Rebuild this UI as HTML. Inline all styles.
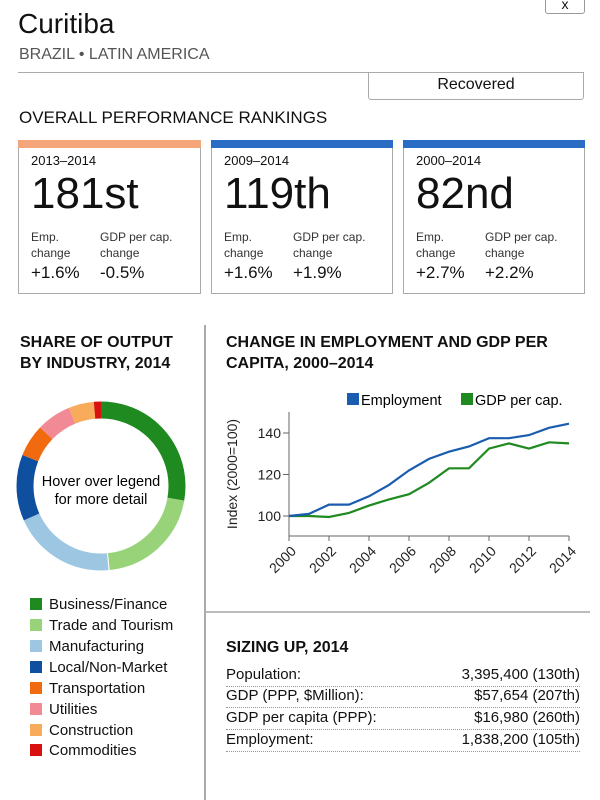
<!DOCTYPE html>
<html><head><meta charset="utf-8"><style>
body{margin:0;width:600px;height:800px;background:#fff;font-family:"Liberation Sans",sans-serif;color:#111;position:relative;overflow:hidden}
.a{position:absolute}
.card{position:absolute;top:140px;height:154px;border:1px solid #aaa;border-top:none;box-sizing:border-box}
.bar{position:absolute;left:-1px;right:-1px;top:0;height:8px}
.per{position:absolute;left:12px;top:13px;font-size:13px}
.rank{position:absolute;left:12px;top:29px;font-size:44px;letter-spacing:0}
.lab{position:absolute;top:89px;font-size:12px;line-height:16px;color:#333}
.val{position:absolute;top:123px;font-size:17px}
.row{position:absolute;left:226px;width:354px;border-bottom:1px dotted #999;font-size:15px;height:21px;line-height:19px}
.row span{float:right}
.lg{position:absolute;left:30px;font-size:15px}
.lg i{display:inline-block;width:12px;height:12px;margin-right:7px;vertical-align:-1px}
</style></head><body>
<div class="a" style="left:545px;top:-10px;width:38px;height:22px;border:1px solid #999;border-radius:3px;text-align:center;font-size:14px;line-height:26px">x</div>
<div class="a" style="left:18px;top:8px;font-size:28px">Curitiba</div>
<div class="a" style="left:19px;top:46px;font-size:16px;color:#555">BRAZIL • LATIN AMERICA</div>
<div class="a" style="left:18px;top:72px;width:565px;border-top:1px solid #aaa"></div>
<div class="a" style="left:368px;top:72px;width:214px;height:27px;border:1px solid #aaa;border-top:none;border-radius:0 0 3px 3px;text-align:center;font-size:16px;line-height:26px">Recovered</div>
<div class="a" style="left:19px;top:108px;font-size:17px">OVERALL PERFORMANCE RANKINGS</div>

<div class="card" style="left:18px;width:183px"><div class="bar" style="background:#f5a57a"></div><div class="per">2013–2014</div><div class="rank">181st</div><div class="lab" style="left:12px">Emp.<br>change</div><div class="lab" style="left:81px">GDP per cap.<br>change</div><div class="val" style="left:12px">+1.6%</div><div class="val" style="left:81px">-0.5%</div></div>
<div class="card" style="left:211px;width:182px"><div class="bar" style="background:#2a6bc4"></div><div class="per">2009–2014</div><div class="rank">119th</div><div class="lab" style="left:12px">Emp.<br>change</div><div class="lab" style="left:81px">GDP per cap.<br>change</div><div class="val" style="left:12px">+1.6%</div><div class="val" style="left:81px">+1.9%</div></div>
<div class="card" style="left:403px;width:182px"><div class="bar" style="background:#2a6bc4"></div><div class="per">2000–2014</div><div class="rank">82nd</div><div class="lab" style="left:12px">Emp.<br>change</div><div class="lab" style="left:81px">GDP per cap.<br>change</div><div class="val" style="left:12px">+2.7%</div><div class="val" style="left:81px">+2.2%</div></div>

<div class="a" style="left:204px;top:325px;height:475px;border-left:2px solid #aaa"></div>
<div class="a" style="left:206px;top:611px;width:384px;border-top:2px solid #bbb"></div>

<div class="a" style="left:20px;top:332px;font-size:16px;font-weight:bold;line-height:21px">SHARE OF OUTPUT<br>BY INDUSTRY, 2014</div>
<div class="a" style="left:226px;top:332px;font-size:16px;font-weight:bold;line-height:21px">CHANGE IN EMPLOYMENT AND GDP PER<br>CAPITA, 2000–2014</div>

<svg class="a" style="left:0;top:0" width="600" height="800">
<g transform="rotate(-90 101 486)" fill="none" stroke-width="17">
<circle cx="101" cy="486" r="76" stroke="#1f8a1f" stroke-dasharray="132.6 477.5" stroke-dashoffset="0"/>
<circle cx="101" cy="486" r="76" stroke="#98d37a" stroke-dasharray="98.2 477.5" stroke-dashoffset="-132.6"/>
<circle cx="101" cy="486" r="76" stroke="#9cc6e2" stroke-dasharray="94.2 477.5" stroke-dashoffset="-231.9"/>
<circle cx="101" cy="486" r="76" stroke="#0f4fa0" stroke-dasharray="60.4 477.5" stroke-dashoffset="-326.1"/>
<circle cx="101" cy="486" r="76" stroke="#f26a10" stroke-dasharray="29.8 477.5" stroke-dashoffset="-386.5"/>
<circle cx="101" cy="486" r="76" stroke="#f28a96" stroke-dasharray="31.3 477.5" stroke-dashoffset="-416.4"/>
<circle cx="101" cy="486" r="76" stroke="#f8ab5a" stroke-dasharray="24.4 477.5" stroke-dashoffset="-447.7"/>
<circle cx="101" cy="486" r="76" stroke="#d81010" stroke-dasharray="6.6 477.5" stroke-dashoffset="-470.9"/>
</g>
<text x="101" y="486" text-anchor="middle" font-size="14.5">Hover over legend</text>
<text x="101" y="504" text-anchor="middle" font-size="14.5">for more detail</text>

<g stroke="#666" stroke-width="1">
<line x1="289" y1="412" x2="289" y2="536"/><line x1="289" y1="536" x2="569" y2="536"/>
<line x1="283" y1="516" x2="289" y2="516"/><line x1="283" y1="474.5" x2="289" y2="474.5"/><line x1="283" y1="433" x2="289" y2="433"/>
<line x1="289" y1="536" x2="289" y2="541"/><line x1="329" y1="536" x2="329" y2="541"/><line x1="369" y1="536" x2="369" y2="541"/><line x1="409" y1="536" x2="409" y2="541"/><line x1="449" y1="536" x2="449" y2="541"/><line x1="489" y1="536" x2="489" y2="541"/><line x1="529" y1="536" x2="529" y2="541"/><line x1="569" y1="536" x2="569" y2="541"/>
</g>
<g font-size="14" text-anchor="end" fill="#222">
<text x="281" y="521">100</text><text x="281" y="479.5">120</text><text x="281" y="438">140</text>
</g>
<text transform="translate(237 474) rotate(-90)" text-anchor="middle" font-size="14" fill="#222">Index (2000=100)</text>
<g font-size="14" text-anchor="end" fill="#222">
<text transform="translate(297 552) rotate(-45)">2000</text>
<text transform="translate(337 552) rotate(-45)">2002</text>
<text transform="translate(377 552) rotate(-45)">2004</text>
<text transform="translate(417 552) rotate(-45)">2006</text>
<text transform="translate(457 552) rotate(-45)">2008</text>
<text transform="translate(497 552) rotate(-45)">2010</text>
<text transform="translate(537 552) rotate(-45)">2012</text>
<text transform="translate(577 552) rotate(-45)">2014</text>
</g>
<polyline fill="none" stroke="#1f8a1f" stroke-width="2.2" points="289,516 309,516 329,517 349,512.9 369,505.6 389,499.4 409,494.2 429,482.8 449,468.3 469,468.3 489,448.6 509,443.4 529,448.6 549,442.3 569,443.4"/>
<polyline fill="none" stroke="#1a5cb0" stroke-width="2.2" points="289,516 309,513.9 329,504.6 349,504.6 369,496.3 389,484.9 409,470.4 429,458.9 449,451.7 469,446.5 489,438.2 509,438.2 529,435.1 549,427.8 569,423.7"/>
<rect x="347" y="393" width="12" height="12" fill="#1a5cb0"/>
<text x="361" y="405" font-size="14.5">Employment</text>
<rect x="461" y="393" width="12" height="12" fill="#1f8a1f"/>
<text x="475" y="405" font-size="14.5">GDP per cap.</text>
</svg>

<div class="lg" style="top:596px"><i style="background:#1f8a1f"></i>Business/Finance</div>
<div class="lg" style="top:617px"><i style="background:#98d37a"></i>Trade and Tourism</div>
<div class="lg" style="top:638px"><i style="background:#9cc6e2"></i>Manufacturing</div>
<div class="lg" style="top:659px"><i style="background:#0f4fa0"></i>Local/Non-Market</div>
<div class="lg" style="top:680px"><i style="background:#f26a10"></i>Transportation</div>
<div class="lg" style="top:701px"><i style="background:#f28a96"></i>Utilities</div>
<div class="lg" style="top:722px"><i style="background:#f8ab5a"></i>Construction</div>
<div class="lg" style="top:742px"><i style="background:#d81010"></i>Commodities</div>

<div class="a" style="left:226px;top:639px;font-size:16px;font-weight:bold">SIZING UP, 2014</div>
<div class="row" style="top:665px">Population:<span>3,395,400 (130th)</span></div>
<div class="row" style="top:686px">GDP (PPP, $Million):<span>$57,654 (207th)</span></div>
<div class="row" style="top:708px">GDP per capita (PPP):<span>$16,980 (260th)</span></div>
<div class="row" style="top:730px">Employment:<span>1,838,200 (105th)</span></div>
</body></html>
